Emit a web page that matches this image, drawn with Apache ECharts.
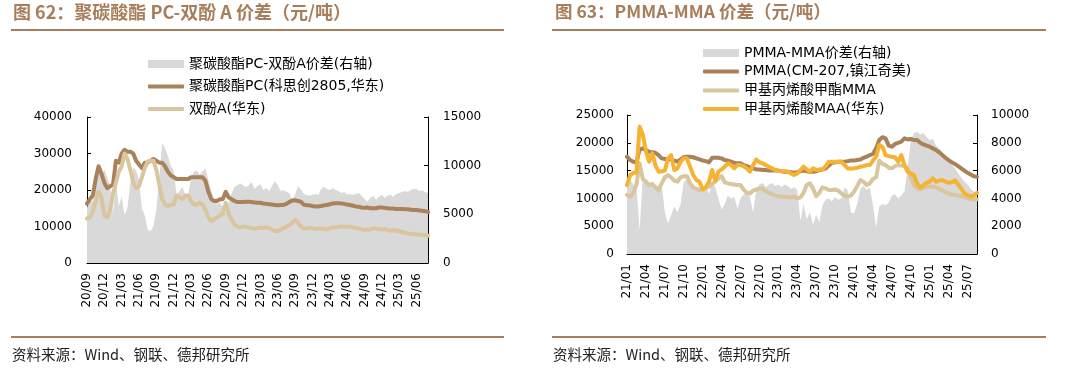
<!DOCTYPE html>
<html><head><meta charset="utf-8">
<script src="https://cdn.jsdelivr.net/npm/echarts@6/dist/echarts.min.js"></script>
<style>html,body{margin:0;padding:0;background:#fff;}#c{width:1080px;height:381px;}</style>
</head><body><div id="c"></div>
<script>
// ---------- DATA ----------
// Left chart: semi-monthly points from 2020/09 to 2025/08
const leftTicks = ['20/09','20/12','21/03','21/06','21/09','21/12','22/03','22/06','22/09','22/12','23/03','23/06','23/09','23/12','24/03','24/06','24/09','24/12','25/03','25/06'];
const pcPrice = [16300,17500,18500,23000,26500,24500,22000,20500,21000,21500,
28000,27500,30000,31000,30500,30500,30000,28000,27000,26000,
27500,27500,28000,28500,28000,27500,27500,26500,25000,24000,
23500,23000,23000,23000,23000,23000,23500,23500,23500,23500,
23500,22500,19500,17500,17000,17000,17500,17500,19500,18000,
17500,17000,16700,16700,16700,16800,16800,16700,16600,16500,
16500,16300,16200,16100,16000,15900,15800,15900,15900,16200,
16700,17100,17200,17000,16800,16000,15800,15800,15600,15500,
15500,15600,15800,15900,16100,16300,16400,16400,16300,16200,
16000,15900,15700,15500,15400,15200,15100,15200,15000,15000,
15000,15200,15200,15100,15000,14900,14900,14800,14800,14800,
14700,14700,14600,14500,14500,14400,14300,14200,14000];
const bpaPrice = [12200,12500,14000,17000,19500,18000,13000,12500,14500,19000,
22000,25000,26500,30000,28500,25500,22000,20500,21000,23500,
26000,27800,28000,28000,25500,21500,17500,16000,15500,16000,
16000,18500,18000,17500,18500,18500,17000,16000,16000,16500,
16000,14500,12500,11500,12000,12500,13000,13500,16500,13500,
12000,10500,10000,9700,10000,9900,9700,9500,9400,9600,
9700,9600,9800,9600,9200,8800,8700,9200,9600,9900,
10400,11000,11800,11000,10000,9500,9400,9700,9500,9300,
9400,9500,9300,9200,9500,9800,9700,9900,10000,9900,
10000,9900,9800,9600,9500,9200,9000,9100,9200,9500,
9400,9300,9200,9300,9000,8900,9000,8900,8700,8500,
8300,8100,8000,7900,7800,7800,7700,7600,7500];
const pcSpread = [5700,6500,6300,8000,9400,8800,9600,8800,8000,5000,
8600,5800,6800,4900,5700,8200,9800,9500,8500,5600,
4900,3400,3300,3800,5500,8800,12300,11800,11000,10000,
9500,7000,7400,7800,7000,7000,8700,9400,9500,9100,
9400,9700,8500,7400,6500,6100,6200,5800,5100,6200,
7100,7800,8000,8200,8000,7800,8000,8300,7600,7900,
8100,7500,7700,7400,7900,8400,8000,7400,7500,7300,
7200,6500,7000,7900,7600,7100,7000,6900,7000,7100,
7000,7600,7800,7600,7500,7700,7500,7400,7200,7300,
7000,7100,7000,7100,7200,6900,6600,6300,6700,6900,
6500,6800,7000,6700,6900,7000,6800,7100,7200,7300,
7400,7300,7500,7600,7600,7400,7500,7300,7200];

// Right chart: semi-monthly points from 2021/01 to 2025/08
const rightTicks = ['21/01','21/04','21/07','21/10','22/01','22/04','22/07','22/10','23/01','23/04','23/07','23/10','24/01','24/04','24/07','24/10','25/01','25/04','25/07'];
const pmmaPrice = [17500,16900,16600,16500,18800,19000,18700,18400,18300,18200,
17800,17200,17100,17000,17000,16800,16600,17000,17400,17500,
17500,17400,17200,17000,16800,16700,16500,17300,17300,17300,
17200,16900,16800,16600,16400,16300,16300,16000,15800,15600,
15400,15200,15200,15100,15100,15000,15000,15000,15000,14900,
14800,14800,14700,14600,14700,14900,15000,14900,14800,14800,
14900,15100,15200,15400,15900,16400,16500,16600,16600,16600,
16700,16800,16800,16900,17000,17300,17500,17800,18000,19000,
20500,21000,20800,19500,19300,19800,20000,20200,20800,20600,
20700,20500,20500,20000,19700,19500,19300,19000,18700,18300,
17800,17300,16900,16500,16200,15800,15400,15000,14600,14300,
14000,13900];
const mmaPrice = [10600,10300,11000,12500,16300,13500,13000,12400,12600,12000,
11500,12700,13800,14200,13800,13200,13000,13800,14000,14000,
12700,12000,11700,11500,11600,12000,12100,12600,13000,13600,
14000,12900,12700,12600,12500,12400,12400,11600,11000,10900,
11400,11600,11800,11800,11300,11000,10800,10500,10400,10300,
10300,10200,10200,10300,10000,10200,11000,12400,12700,11800,
10400,11000,12000,11800,11500,11500,11600,11400,10900,10500,
10300,10500,11200,12200,13300,13000,12400,12700,13500,13800,
16800,16200,16000,15500,15400,15800,16000,15900,15800,15400,
13900,12400,11800,11600,11900,12000,12200,12100,12000,11700,
11400,11100,10900,10700,10600,10500,10400,10300,10000,9900,
9800,9800];
const maaPrice = [12400,14200,14600,14600,22900,21500,18500,16600,18100,16000,
14800,14900,15000,17200,17800,15100,15400,16600,17200,17200,
15700,14200,13300,13000,11600,12000,13000,15100,13300,14800,
15200,15700,16300,16000,15400,16000,16000,15800,15400,14800,
16000,17000,16500,16300,16000,15700,15400,15100,15000,14900,
14900,14800,14500,14200,14500,15100,15700,15200,14800,15400,
15100,15200,15200,15800,16600,16600,16600,16600,16600,16000,
15400,15400,15400,15500,15700,15800,16000,16000,16800,17500,
19600,19300,17800,17600,17500,17400,16600,17800,16000,14800,
14500,14200,12700,12000,12300,12800,13000,13600,13000,13200,
13300,13000,12800,12900,13200,12500,11800,10900,10600,10300,
10500,11000];
const pmmaSpread = [5000,5400,5000,4800,1700,5500,5200,5000,5200,4900,
4800,5000,3000,2200,2800,3400,3000,3600,5200,5300,
5000,4900,4700,4800,4600,5000,4300,5100,4800,4000,
3200,3600,4200,4000,4100,3300,4000,4300,4400,4100,
3000,4600,5000,5100,4800,5000,5100,4900,5000,4800,
5000,4900,4700,4800,4600,2400,3600,2500,3000,2100,
2800,2300,3500,3900,4000,3800,4100,3900,4000,4800,
4600,3000,2900,3600,4700,4900,4600,4800,3500,1900,
3400,3600,3500,3700,4200,4300,4000,4200,4500,6200,
8200,8700,8800,8600,8700,8400,8200,8300,7800,7600,
7300,7100,6800,6400,6200,5800,5500,5200,5000,4700,
4500,4300];

const names = {
  s62: '聚碳酸酯PC-双酚A价差(右轴)',
  pc: '聚碳酸酯PC(科思创2805,华东)',
  bpa: '双酚A(华东)',
  s63: 'PMMA-MMA价差(右轴)',
  pmma: 'PMMA(CM-207,镇江奇美)',
  mma: '甲基丙烯酸甲酯MMA',
  maa: '甲基丙烯酸MAA(华东)'
};

// ---------- BUILD ----------
function halfMonths(y, m, n) {
  const out = [];
  for (let k = 0; k < n; k++) {
    const mm = (m - 1) + Math.floor(k / 2);
    const yy = y + Math.floor(mm / 12);
    const mo = (mm % 12) + 1;
    const s = String(yy % 100).padStart(2, '0') + '/' + String(mo).padStart(2, '0');
    out.push(k % 2 === 0 ? s : s + '-16');
  }
  return out;
}
const leftCats = halfMonths(2020, 9, pcPrice.length);
const rightCats = halfMonths(2021, 1, pmmaPrice.length);

const BROWN = '#A9825B', TAN = '#DAC69E', GRAY = '#D9D9D9', ORANGE = '#F5B331', TITLE = '#A67E5A';
const CJK = '"Noto Sans CJK SC", "Noto Sans", sans-serif';
const MIX = '"DejaVu Sans", "Noto Sans CJK SC", sans-serif';

function xAxisFor(grid, cats, ticks) {
  const show = (idx, val) => ticks.indexOf(val) >= 0;
  return {
    type: 'category', gridIndex: grid, data: cats, boundaryGap: false,
    axisLine: { show: true, lineStyle: { color: '#000', width: 1 } },
    axisTick: { show: true, inside: true, length: 4, interval: show, lineStyle: { color: '#000' } },
    axisLabel: { interval: show, rotate: 90, margin: 10, color: '#000', fontSize: 12, fontFamily: MIX },
    splitLine: { show: false }
  };
}
function yAxisFor(grid, pos, max, step, margin) {
  return {
    type: 'value', gridIndex: grid, position: pos, min: 0, max: max, interval: step,
    axisLine: { show: true, lineStyle: { color: '#000', width: 1 } },
    axisTick: { show: true, inside: true, length: 4, lineStyle: { color: '#000' } },
    axisLabel: { color: '#000', fontSize: 12, fontFamily: MIX, margin: margin,
      formatter: v => String(v) },
    splitLine: { show: false }
  };
}
function lineSeries(name, xi, yi, data, color, z) {
  return { name, type: 'line', xAxisIndex: xi, yAxisIndex: yi, data, color,
    symbol: 'none', smooth: false, z: z,
    lineStyle: { color, width: 4, cap: 'round', join: 'round' } };
}
function areaSeries(name, xi, yi, data) {
  return { name, type: 'line', xAxisIndex: xi, yAxisIndex: yi, data, color: GRAY,
    symbol: 'none', smooth: false, z: 1,
    lineStyle: { width: 0, color: GRAY }, areaStyle: { color: GRAY, opacity: 1 } };
}
function legendItem(name, left, centerY, isArea) {
  return {
    data: [{ name, icon: isArea ? 'rect' : 'roundRect' }],
    left: left, top: centerY - 8, orient: 'vertical', selectedMode: false,
    itemWidth: 36, itemHeight: isArea ? 8 : 4, padding: 0,
    textStyle: { color: '#000', fontSize: 14, fontFamily: MIX, lineHeight: 16 }
  };
}
function txt(x, y, text, font, fill) {
  return { type: 'text', left: x, top: y, style: { text, font, fill } };
}

const chart = echarts.init(document.getElementById('c'), null, { renderer: 'canvas' });
chart.setOption({
  animation: false,
  backgroundColor: '#fff',
  grid: [
    { left: 87, top: 117, width: 341, height: 146, containLabel: false, outerBoundsMode: 'none' },
    { left: 627, top: 115, width: 350, height: 139, containLabel: false, outerBoundsMode: 'none' }
  ],
  xAxis: [xAxisFor(0, leftCats, leftTicks), xAxisFor(1, rightCats, rightTicks)],
  yAxis: [
    yAxisFor(0, 'left', 40000, 10000, 15), yAxisFor(0, 'right', 15000, 5000, 15),
    yAxisFor(1, 'left', 25000, 5000, 13), yAxisFor(1, 'right', 10000, 2000, 14)
  ],
  legend: [
    legendItem(names.s62, 148, 64, true),
    legendItem(names.pc, 148, 86.5, false),
    legendItem(names.bpa, 148, 109, false),
    legendItem(names.s63, 703, 53, true),
    legendItem(names.pmma, 703, 71.5, false),
    legendItem(names.mma, 703, 90.5, false),
    legendItem(names.maa, 703, 109, false)
  ],
  series: [
    areaSeries(names.s62, 0, 1, pcSpread),
    lineSeries(names.pc, 0, 0, pcPrice, BROWN, 3),
    lineSeries(names.bpa, 0, 0, bpaPrice, TAN, 4),
    areaSeries(names.s63, 1, 3, pmmaSpread),
    lineSeries(names.pmma, 1, 2, pmmaPrice, BROWN, 3),
    lineSeries(names.mma, 1, 2, mmaPrice, TAN, 4),
    lineSeries(names.maa, 1, 2, maaPrice, ORANGE, 5)
  ],
  graphic: [
    txt(13, 3, '图 62：聚碳酸酯 PC-双酚 A 价差（元/吨）', 'bold 18px ' + CJK, TITLE),
    txt(555, 3, '图 63：PMMA-MMA 价差（元/吨）', 'bold 17.5px ' + CJK, TITLE),
    { type: 'rect', left: 11, top: 29, shape: { width: 493, height: 2 }, style: { fill: TITLE } },
    { type: 'rect', left: 552, top: 29, shape: { width: 494, height: 2 }, style: { fill: TITLE } },
    { type: 'rect', left: 11, top: 336, shape: { width: 493, height: 2 }, style: { fill: TITLE } },
    { type: 'rect', left: 552, top: 336, shape: { width: 494, height: 2 }, style: { fill: TITLE } },
    txt(12, 347, '资料来源：Wind、钢联、德邦研究所', '14.5px ' + CJK, '#222'),
    txt(553, 347, '资料来源：Wind、钢联、德邦研究所', '14.5px ' + CJK, '#222')
  ]
});
</script></body></html>
